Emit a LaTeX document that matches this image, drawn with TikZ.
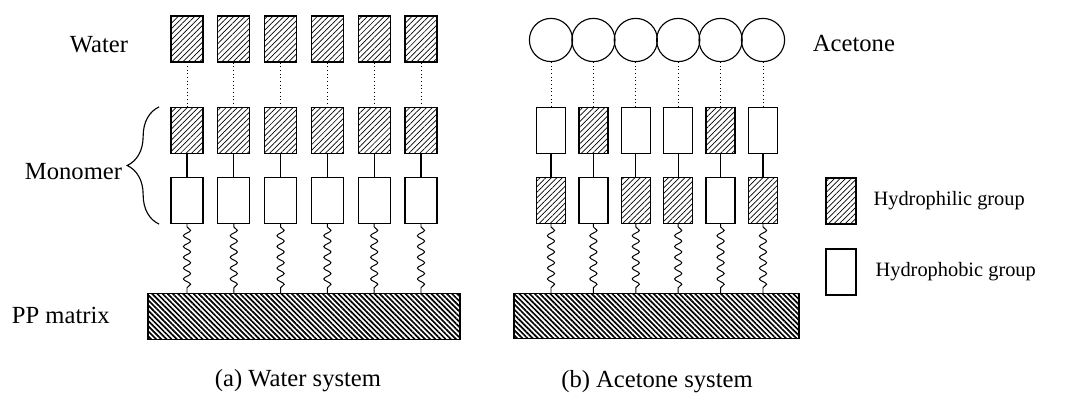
\documentclass[tikz,border=0pt]{standalone}
\usepackage{fontspec}
\setmainfont{Liberation Serif}
\usepackage{tikz}
\usetikzlibrary{positioning}
\usetikzlibrary{patterns.meta}
\usetikzlibrary{decorations.pathmorphing, decorations.pathreplacing}
\tikzstyle{grp}=[draw, line width=0.9pt, inner sep=0pt, minimum height=1.15cm]
\tikzstyle{philic}=[grp, pattern={Lines[angle=45,distance=2.8pt,line width=0.5pt]}]
\tikzstyle{phobic}=[grp, fill=white]
\tikzstyle{acetone}=[draw, circle, line width=0.8pt, inner sep=0pt, minimum size=1.08cm]
\tikzstyle{ppbar}=[draw, line width=0.8pt, inner sep=0pt, minimum height=1.13cm, pattern={Lines[angle=-45,distance=2.6pt,line width=1.2pt]}]
\tikzstyle{hbond}=[dotted, line width=0.6pt]
\tikzstyle{bond}=[line width=0.8pt]
\tikzstyle{spring}=[line width=0.7pt, decorate, decoration={snake, segment length=0.27cm, amplitude=0.09cm, pre length=2pt, post length=1pt}]
\tikzstyle{lbl}=[font=\fontsize{17.5}{20}\selectfont]
\tikzstyle{lgd}=[font=\fontsize{14.5}{16}\selectfont, anchor=west]

\begin{document}
\begin{tikzpicture}[x=0.025cm, y=-0.025cm]
	\useasboundingbox (0,0) rectangle (1074,395);
	% (a) water system
	\node[ppbar, minimum width=7.8cm] (PPa) at (304,316.5) {};
	\foreach \i in {0,...,5} {
		\node[philic, minimum width=0.8cm] (W\i) at (187+46.8*\i,39) {};
		\node[philic, minimum width=0.8cm] (T\i) at (187+46.8*\i,130.5) {};
		\node[phobic, minimum width=0.8cm] (B\i) at (187+46.8*\i,200.5) {};
		\draw[hbond] (W\i) -- (T\i);
		\draw[bond] (T\i) -- (B\i);
		\draw[spring] (B\i.south) -- (B\i.south |- PPa.north);}
	\node[lbl] (water) at (99,45) {Water};
	\node[lbl, anchor=east] (mono) at (127,172) {Monomer};
	\draw[line width=0.8pt, decorate, decoration={brace, amplitude=0.8cm}]
		([xshift=-0.28cm]B0.south west) -- ([xshift=-0.28cm]T0.north west);
	\node[lbl, anchor=west] (pp) at (7,315) {PP matrix};
	\node[lbl] (capa) at (298,381) {(a) Water system};
	% (b) acetone system
	\node[ppbar, minimum width=7.125cm] (PPb) at (656.5,316) {};
	\foreach \i/\u/\d in {0/phobic/philic,1/philic/phobic,2/phobic/philic,3/phobic/philic,4/philic/phobic,5/phobic/philic} {
		\node[acetone] (A\i) at (551+42.4*\i,40) {};
		\node[\u, minimum width=0.725cm] (U\i) at (551+42.4*\i,130.5) {};
		\node[\d, minimum width=0.725cm] (D\i) at (551+42.4*\i,200.5) {};
		\draw[hbond] (A\i) -- (U\i);
		\draw[bond] (U\i) -- (D\i);
		\draw[spring] (D\i.south) -- (D\i.south |- PPb.north);}
	\node[lbl, anchor=west] (acet) at (808,43) {Acetone};
	\node[lbl] (capb) at (657,382) {(b) Acetone system};
	% legend
	\node[philic, minimum width=0.75cm] (Lp) at (841,201) {};
	\node[lgd, right=0.3cm of Lp] (Lpt) {Hydrophilic group};
	\node[phobic, minimum width=0.75cm] (Lh) at (841,272) {};
	\node[lgd, right=0.35cm of Lh] (Lht) {Hydrophobic group};
\end{tikzpicture}
\end{document}
